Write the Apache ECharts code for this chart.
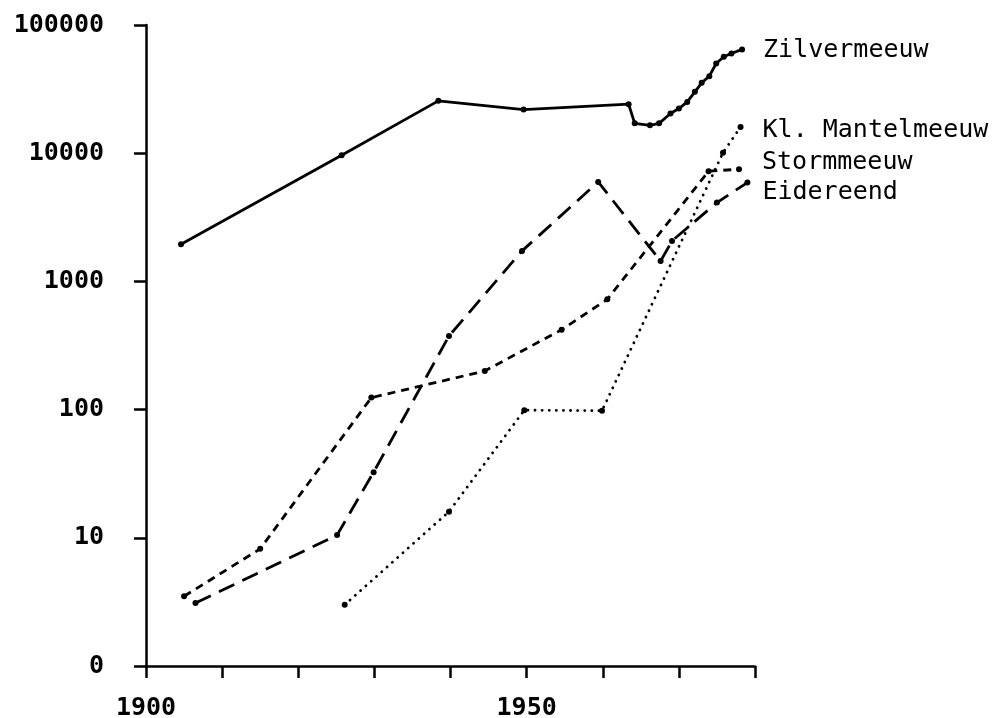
<!DOCTYPE html>
<html>
<head>
<meta charset="utf-8">
<script src="https://cdn.jsdelivr.net/npm/echarts@6/dist/echarts.min.js"></script>
<style>
html,body{margin:0;padding:0;background:#fff;}
#chart{width:993px;height:718px;}
</style>
</head>
<body>
<div id="chart"></div>
<script>
// ---- data ----
const seriesNames = ["Zilvermeeuw", "Kl. Mantelmeeuw", "Stormmeeuw", "Eidereend"];

const zilverYears  = [1904.6, 1925.7, 1938.4, 1949.6, 1963.4, 1964.2, 1966.2, 1967.4, 1968.9, 1970.0, 1971.1, 1972.1, 1973.0, 1974.0, 1974.9, 1975.9, 1976.9, 1978.3];
const zilverValues = [1950, 9640, 25600, 21900, 24100, 17100, 16500, 17100, 20400, 22300, 25100, 30100, 35400, 39900, 50100, 56500, 60000, 64500];

const mantelYears  = [1926.1, 1939.8, 1949.7, 1959.9, 1975.8, 1978.1];
const mantelValues = [3, 16, 99, 98, 10100, 16000];

const stormYears   = [1905.0, 1915.0, 1929.6, 1944.5, 1954.6, 1960.6, 1973.9, 1977.9];
const stormValues  = [3.5, 8.2, 124, 200, 420, 725, 7230, 7500];

const eiderYears   = [1906.5, 1925.1, 1929.9, 1939.8, 1949.4, 1959.4, 1967.6, 1969.1, 1975.0, 1979.0];
const eiderValues  = [3.1, 10.5, 32.5, 375, 1730, 5970, 1440, 2070, 4120, 5900];

const xTickLabels = ["1900", "1950"];
const yTickLabels = ["0", "10", "100", "1000", "10000", "100000"];

// ---- build ----
function pairs(xs, ys) { return xs.map((x, i) => [x, ys[i]]); }

const chart = echarts.init(document.getElementById('chart'), null, {renderer: 'canvas'});

const labelFont = {fontFamily: 'DejaVu Sans Mono', fontSize: 25, color: '#000'};

function lineSeries(name, data, dash, width, cap, labelOffset, labelDist) {
  return {
    name: name,
    type: 'line',
    data: data,
    symbol: 'circle',
    symbolSize: 6,
    itemStyle: {color: '#000'},
    lineStyle: {color: '#000', width: width, type: dash, cap: cap},
    clip: false,
    animation: false,
    endLabel: Object.assign({
      show: true,
      formatter: '{a}',
      distance: labelDist,
      offset: labelOffset
    }, labelFont)
  };
}

const option = {
  backgroundColor: '#fff',
  animation: false,
  grid: {left: 146, right: 238, top: 25, bottom: 52, containLabel: false, outerBoundsMode: 'none'},
  xAxis: {
    type: 'value',
    min: 1900, max: 1980, interval: 10,
    axisLine: {show: true, onZero: false, lineStyle: {color: '#000', width: 2.5}},
    axisTick: {show: true, length: 12, lineStyle: {color: '#000', width: 2.5}},
    splitLine: {show: false},
    axisLabel: {
      margin: 30,
      fontFamily: 'DejaVu Sans Mono', fontWeight: 'bold', fontSize: 25, color: '#000',
      formatter: v => xTickLabels.includes(String(v)) ? String(v) : ''
    }
  },
  yAxis: {
    type: 'log', logBase: 10,
    min: 1, max: 100000,
    axisLine: {show: true, lineStyle: {color: '#000', width: 2.5}},
    axisTick: {show: true, length: 12, lineStyle: {color: '#000', width: 2.5}},
    splitLine: {show: false},
    minorTick: {show: false},
    axisLabel: {
      margin: 42,
      fontFamily: 'DejaVu Sans Mono', fontWeight: 'bold', fontSize: 25, color: '#000',
      formatter: v => {
        const k = Math.round(Math.log10(v));
        return yTickLabels[k] !== undefined ? yTickLabels[k] : '';
      }
    }
  },
  series: [
    lineSeries(seriesNames[0], pairs(zilverYears, zilverValues), 'solid', 2.8, 'butt', [0, 1], 21),
    lineSeries(seriesNames[1], pairs(mantelYears, mantelValues), [0.1, 7], 2.8, 'round', [0, 3], 22),
    lineSeries(seriesNames[2], pairs(stormYears, stormValues), [8, 6], 2.8, 'butt', [0, -7], 23),
    lineSeries(seriesNames[3], pairs(eiderYears, eiderValues), [17, 9], 2.8, 'butt', [0, 10], 15)
  ]
};

chart.setOption(option);
</script>
</body>
</html>
